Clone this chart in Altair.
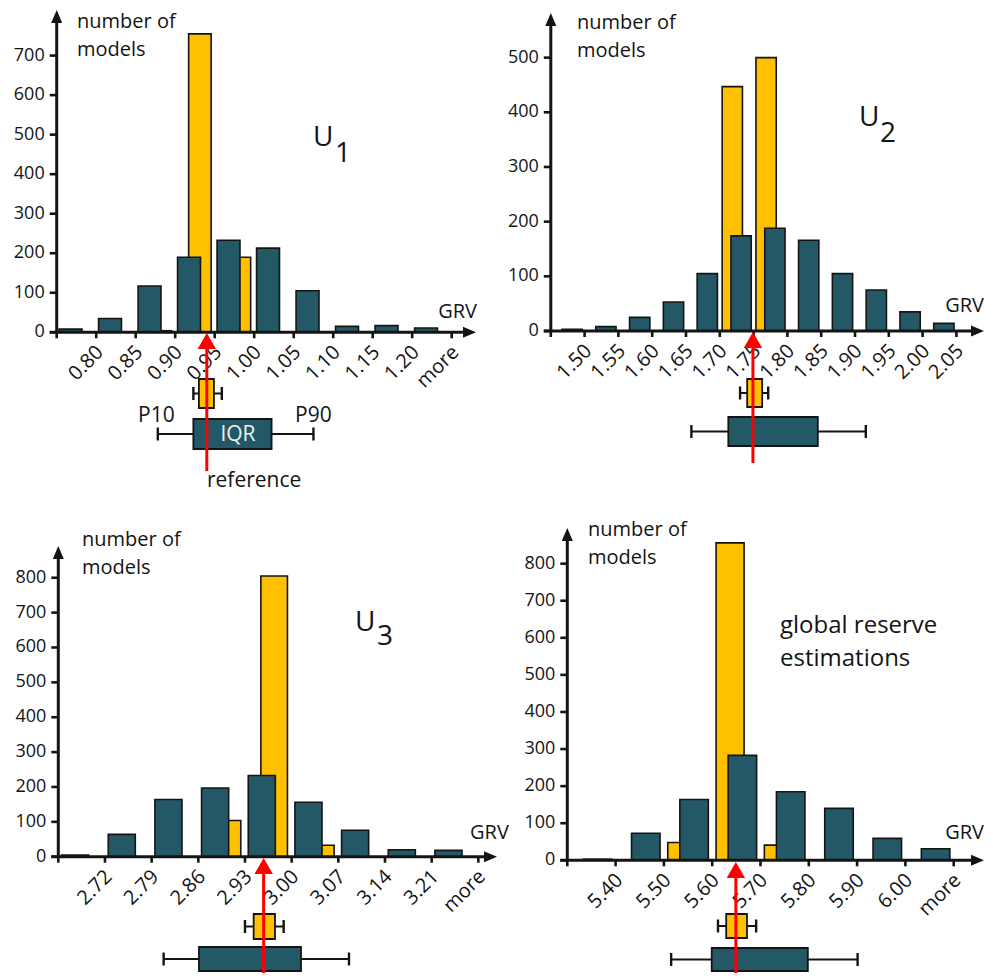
import altair as alt
import pandas as pd

FONT = "Open Sans"
TEAL = "#245866"
YELLOW = "#FFC000"
RED = "#FF0000"
INK = "#141414"

# ---------------- data ----------------
# U1
u1_bin_start, u1_bin_width = 0.75, 0.05
u1_teal = [8, 35, 117, 190, 233, 213, 105, 15, 17, 11]
u1_yellow = [0, 0, 4, 755, 190, 0, 0, 0, 0, 0]
u1_labels = ["0.80", "0.85", "0.90", "0.95", "1.00", "1.05", "1.10", "1.15", "1.20", "more"]
u1_yticks = [0, 100, 200, 300, 400, 500, 600, 700]
u1_yellow_box = [0.923, 0.930, 0.949, 0.959]   # P10, Q1, Q3, P90
u1_teal_box = [0.878, 0.923, 1.022, 1.075]
u1_reference = 0.940

# U2
u2_bin_start, u2_bin_width = 1.45, 0.05
u2_teal = [3, 8, 25, 53, 105, 174, 188, 166, 105, 75, 35, 14]
u2_yellow = [0, 0, 0, 0, 0, 447, 500, 0, 0, 0, 0, 0]
u2_labels = ["1.50", "1.55", "1.60", "1.65", "1.70", "1.75", "1.80", "1.85",
             "1.90", "1.95", "2.00", "2.05"]
u2_yticks = [0, 100, 200, 300, 400, 500]
u2_yellow_box = [1.730, 1.7405, 1.7627, 1.7716]
u2_teal_box = [1.658, 1.7126, 1.845, 1.916]
u2_reference = 1.749

# U3
u3_bin_start, u3_bin_width = 2.65, 0.07
u3_teal = [5, 64, 164, 197, 233, 156, 76, 20, 18]
u3_yellow = [0, 0, 0, 104, 805, 33, 0, 0, 0]
u3_labels = ["2.72", "2.79", "2.86", "2.93", "3.00", "3.07", "3.14", "3.21", "more"]
u3_yticks = [0, 100, 200, 300, 400, 500, 600, 700, 800]
u3_yellow_box = [2.930, 2.943, 2.975, 2.988]
u3_teal_box = [2.808, 2.861, 3.014, 3.086]
u3_reference = 2.958

# global reserve estimations
g_bin_start, g_bin_width = 5.30, 0.10
g_teal = [3, 73, 164, 283, 185, 140, 59, 31]
g_yellow = [0, 0, 48, 856, 41, 0, 0, 0]
g_labels = ["5.40", "5.50", "5.60", "5.70", "5.80", "5.90", "6.00", "more"]
g_yticks = [0, 100, 200, 300, 400, 500, 600, 700, 800]
g_yellow_box = [5.612, 5.629, 5.672, 5.691]
g_teal_box = [5.515, 5.599, 5.798, 5.901]
g_reference = 5.649

ONE = pd.DataFrame({"k": [0]})
XARROW = "M-1,-0.85L1,0L-1,0.85Z"
YARROW = "M0,-1L0.85,1L-0.85,1Z"
RARROW = "M0,-1L1.15,1L-1.15,1Z"


def label(s, x, y, size, align="left", baseline="alphabetic", color=INK):
    return alt.Chart(ONE).mark_text(
        text=s, align=align, baseline=baseline, fontSize=size, font=FONT, color=color
    ).encode(x=alt.value(x), y=alt.value(y))


def panel(start, width, teal, yellow, labels, yticks, ybox, tbox, ref, L, extra):
    n = len(teal)
    W, H = L["W"], L["H"]
    X0, sp, Y0, k = L["X0"], L["step"], L["Y0"], L["k"]
    xs = alt.Scale(domain=[start - X0 / sp * width, start + (W - X0) / sp * width],
                   nice=False, zero=False)
    ys = alt.Scale(domain=[-(H - Y0) / k, Y0 / k], nice=False, zero=False)

    def X(f, **kw):
        return alt.X(f, scale=xs, axis=None, **kw)

    def Y(f, **kw):
        return alt.Y(f, scale=ys, axis=None, **kw)

    lo = [start + i * width for i in range(n)]
    ta, tb = L["teal_off"]
    ya, yb = L["yellow_off"]
    bars = pd.DataFrame({
        "lo": lo, "teal": teal, "yellow": yellow, "base": [0] * n,
    })
    bars["tx"] = bars.lo + ta * width
    bars["tx2"] = bars.lo + tb * width
    bars["yx"] = bars.lo + ya * width
    bars["yx2"] = bars.lo + yb * width

    layers = []
    layers.append(alt.Chart(bars[bars.yellow > 0]).mark_rect(
        fill=YELLOW, stroke=INK, strokeWidth=1.6).encode(
        x=X("yx:Q"), x2="yx2:Q", y=Y("yellow:Q"), y2="base:Q"))
    layers.append(alt.Chart(bars[bars.teal > 0]).mark_rect(
        fill=TEAL, stroke=INK, strokeWidth=1.6).encode(
        x=X("tx:Q"), x2="tx2:Q", y=Y("teal:Q"), y2="base:Q"))

    # x ticks
    ticks = pd.DataFrame({"v": [start + i * width for i in range(n + 1)]})
    layers.append(alt.Chart(ticks).mark_rule(color=INK, strokeWidth=2.6).encode(
        x=X("v:Q"), y=alt.value(Y0), y2=alt.value(Y0 + 6)))
    # x tick labels (rotated)
    tl = pd.DataFrame({"v": [start + (i + 1) * width for i in range(n)], "lab": labels})
    layers.append(alt.Chart(tl).mark_text(
        angle=315, align="right", baseline="middle", fontSize=20, font=FONT, color=INK,
        dy=5.6).encode(
        x=X("v:Q"), y=alt.value(Y0 + 13), text="lab:N"))
    # y ticks + labels
    yt = pd.DataFrame({"v": yticks})
    layers.append(alt.Chart(yt).mark_rule(color=INK, strokeWidth=2.6).encode(
        x=alt.value(X0 - 7), x2=alt.value(X0), y=Y("v:Q")))
    layers.append(alt.Chart(yt).mark_text(
        align="right", baseline="middle", fontSize=18, font=FONT, color=INK).encode(
        x=alt.value(X0 - 12), y=Y("v:Q"), text="v:Q"))
    # axes lines with arrow heads
    layers.append(alt.Chart(ONE).mark_rule(color=INK, strokeWidth=3).encode(
        x=alt.value(X0 - 7), x2=alt.value(L["xtip"] - 8), y=Y("base:Q")).transform_calculate(base="0"))
    layers.append(alt.Chart(ONE).mark_rule(color=INK, strokeWidth=3).encode(
        x=alt.value(X0), y=alt.value(Y0 + 1), y2=alt.value(L["ytip"] + 8)))
    layers.append(alt.Chart(ONE).mark_point(
        shape=XARROW, size=169, filled=True, fill=INK, opacity=1, strokeWidth=0).encode(
        x=alt.value(L["xtip"] - 6.5), y=alt.value(Y0)))
    layers.append(alt.Chart(ONE).mark_point(
        shape=YARROW, size=169, filled=True, fill=INK, opacity=1, strokeWidth=0).encode(
        x=alt.value(X0), y=alt.value(L["ytip"] + 6.5)))

    # box plots
    for stats, (top, bot), fill in ((ybox, L["ybox"], YELLOW), (tbox, L["tbox"], TEAL)):
        c = (top + bot) / 2
        bd = pd.DataFrame({"p10": [stats[0]], "q1": [stats[1]], "q3": [stats[2]], "p90": [stats[3]]})
        cap = pd.DataFrame({"v": [stats[0], stats[3]]})
        layers.append(alt.Chart(bd).mark_rule(color=INK, strokeWidth=2).encode(
            x=X("p10:Q"), x2="p90:Q", y=alt.value(c)))
        layers.append(alt.Chart(cap).mark_rule(color=INK, strokeWidth=2.4).encode(
            x=X("v:Q"), y=alt.value(c - 6.5), y2=alt.value(c + 6.5)))
        layers.append(alt.Chart(bd).mark_rect(fill=fill, stroke=INK, strokeWidth=1.8).encode(
            x=X("q1:Q"), x2="q3:Q", y=alt.value(top), y2=alt.value(bot)))

    # texts
    lx, l1, l2 = L["ylab"]
    layers.append(label("number of", lx, l1, 20))
    layers.append(label("models", lx, l2, 20))
    layers += extra

    # reference arrow
    rd = pd.DataFrame({"r": [ref]})
    layers.append(alt.Chart(rd).mark_rule(color=RED, strokeWidth=3).encode(
        x=X("r:Q"), y=alt.value(L["red_bottom"]), y2=alt.value(L["red_tip"] + 12)))
    layers.append(alt.Chart(rd).mark_point(
        shape=RARROW, size=256, filled=True, fill=RED, opacity=1, strokeWidth=0).encode(
        x=X("r:Q"), y=alt.value(L["red_tip"] + 8)))

    return alt.layer(*layers).properties(width=W, height=H)


L1 = dict(W=482, H=482, X0=48.7, step=39.5, Y0=324.3, k=0.3953, xtip=468, ytip=2,
          teal_off=(0.06, 0.64), yellow_off=(0.34, 0.91), ylab=(69, 20, 48),
          ybox=(371, 400), tbox=(411, 441), red_bottom=463, red_tip=325)
L2 = dict(W=495, H=482, X0=60.8, step=33.8, Y0=323, k=0.5467, xtip=494, ytip=5,
          teal_off=(0.33, 0.93), yellow_off=(0.07, 0.67), ylab=(87, 21, 49),
          ybox=(371, 399), tbox=(409, 438), red_bottom=455, red_tip=324)
L3 = dict(W=507, H=482, X0=50.3, step=46.67, Y0=365.7, k=0.3487, xtip=489, ytip=55,
          teal_off=(0.07, 0.65), yellow_off=(0.34, 0.91), ylab=(74, 55, 83),
          ybox=(423, 448), tbox=(456, 480), red_bottom=482, red_tip=367)
L4 = dict(W=470, H=482, X0=52.3, step=48.3, Y0=369.3, k=0.3708, xtip=469, ytip=37,
          teal_off=(0.33, 0.92), yellow_off=(0.08, 0.66), ylab=(73, 45, 73),
          ybox=(423, 447), tbox=(457, 480), red_bottom=482, red_tip=371)

e1 = [
    label("U", 305, 138, 28), label("1", 327, 154, 28),
    label("GRV", 469, 310, 20, align="right"),
    label("P10", 130, 414, 21), label("P90", 287, 414, 21),
    label("IQR", 230, 427, 21, align="center", baseline="middle", color="#E6F2F2"),
    label("reference", 199, 479, 21),
]
e2 = [
    label("U", 369, 118, 28), label("2", 390, 134, 28),
    label("GRV", 494, 304, 20, align="right"),
]
e3 = [
    label("U", 347, 140, 28), label("3", 369, 154, 28),
    label("GRV", 462, 348, 20),
]
e4 = [
    label("global reserve", 265, 142, 24), label("estimations", 265, 175, 24),
    label("GRV", 469, 348, 20, align="right"),
]

p1 = panel(u1_bin_start, u1_bin_width, u1_teal, u1_yellow, u1_labels, u1_yticks,
           u1_yellow_box, u1_teal_box, u1_reference, L1, e1)
p2 = panel(u2_bin_start, u2_bin_width, u2_teal, u2_yellow, u2_labels, u2_yticks,
           u2_yellow_box, u2_teal_box, u2_reference, L2, e2)
p3 = panel(u3_bin_start, u3_bin_width, u3_teal, u3_yellow, u3_labels, u3_yticks,
           u3_yellow_box, u3_teal_box, u3_reference, L3, e3)
p4 = panel(g_bin_start, g_bin_width, g_teal, g_yellow, g_labels, g_yticks,
           g_yellow_box, g_teal_box, g_reference, L4, e4)

chart = alt.vconcat(
    alt.hconcat(p1, p2, spacing=0),
    alt.hconcat(p3, p4, spacing=0),
    spacing=0,
).properties(padding=0).configure_view(stroke=None)

chart.save("out.html", embed_options={"renderer": "svg", "actions": False})
